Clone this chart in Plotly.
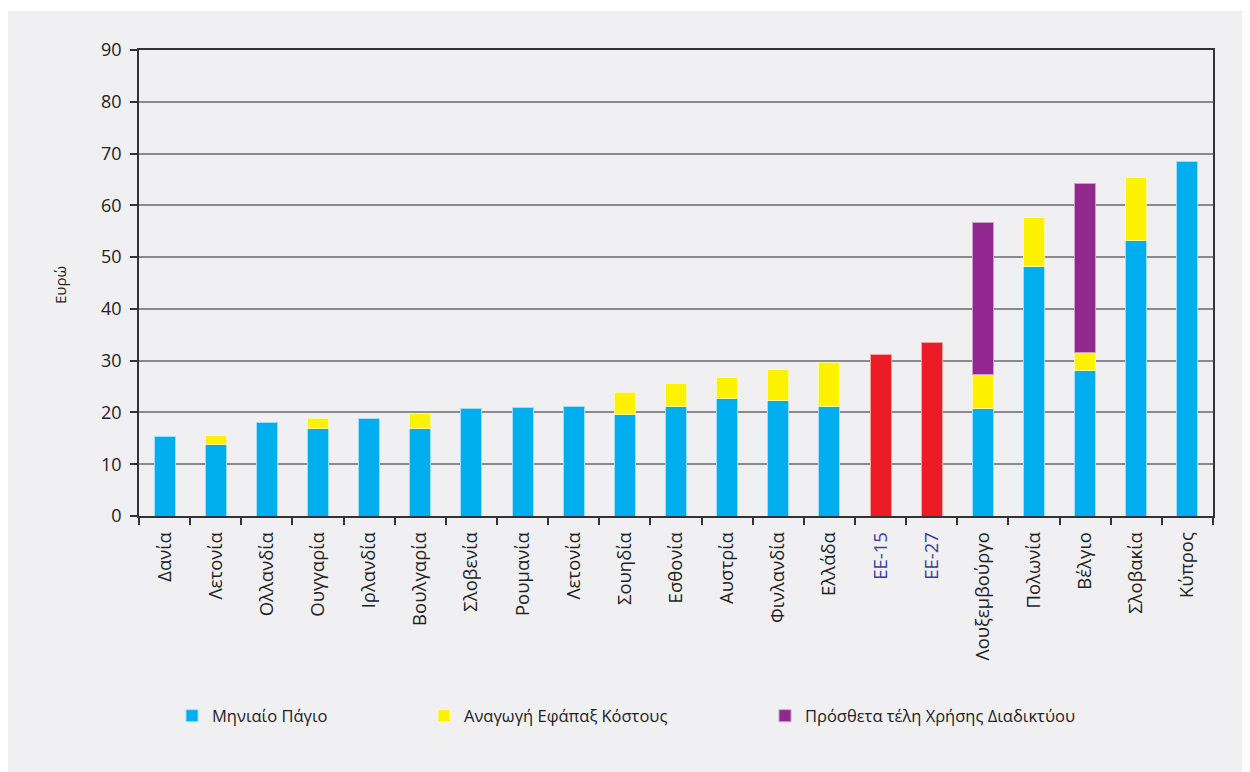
import plotly.graph_objects as go

categories = ["Δανία", "Λετονία", "Ολλανδία", "Ουγγαρία", "Ιρλανδία", "Βουλγαρία",
              "Σλοβενία", "Ρουμανία", "Λετονία", "Σουηδία", "Εσθονία", "Αυστρία",
              "Φινλανδία", "Ελλάδα", "ΕΕ-15", "ΕΕ-27", "Λουξεμβούργο", "Πολωνία",
              "Βέλγιο", "Σλοβακία", "Κύπρος"]
is_eu_average = [False] * 14 + [True, True] + [False] * 5

monthly_fee = [15.4, 13.9, 18.0, 16.9, 18.9, 16.9, 20.7, 21.0, 21.2, 19.6, 21.1, 22.6,
               22.3, 21.1, 31.2, 33.6, 20.7, 48.1, 28.1, 53.2, 68.4]
one_off_cost = [None, 1.7, None, 2.0, None, 2.9, None, None, None, 4.3, 4.4, 4.1,
                5.9, 8.6, None, None, 6.7, 9.5, 3.5, 12.1, None]
internet_fees = [None] * 16 + [29.3, None, 32.6, None, None]

series_names = ["Μηνιαίο Πάγιο", "Αναγωγή Εφάπαξ Κόστους", "Πρόσθετα τέλη Χρήσης Διαδικτύου"]
y_title = "Ευρώ"

BLUE = "#00aeef"
YELLOW = "#fff200"
PURPLE = "#92278f"
RED = "#ed1c24"
BG = "#f0f0f2"
EU_LABEL = "#3a3d9e"

x_idx = list(range(len(categories)))
tick_text = [f'<span style="color:{EU_LABEL}">{c}</span>' if eu else c
             for c, eu in zip(categories, is_eu_average)]

blue_colors = [RED if eu else BLUE for eu in is_eu_average]
blue_lines = ["#f7a0a0" if eu else "#9fdcf7" for eu in is_eu_average]

fig = go.Figure()
fig.add_trace(go.Bar(x=x_idx, y=monthly_fee, name=series_names[0],
                     marker=dict(color=blue_colors, line=dict(color=blue_lines, width=1)),
                     legend="legend", showlegend=True))
fig.add_trace(go.Bar(x=x_idx, y=one_off_cost, name=series_names[1],
                     marker=dict(color=YELLOW, line=dict(color="#fff9a0", width=1)),
                     legend="legend2", showlegend=True))
fig.add_trace(go.Bar(x=x_idx, y=internet_fees, name=series_names[2],
                     marker=dict(color=PURPLE, line=dict(color="#c9a0c8", width=1)),
                     legend="legend3", showlegend=True))

# page offset (browser body margin) between screenshot pixels and figure pixels
OFF = 8
W, H = 1250, 772
L = 139 - OFF
T = 50 - OFF
R = W - (1213 - OFF)
B = H - (516 - OFF)
pw, ph = W - L - R, H - T - B


def px_x(p):
    return (p - OFF - L) / pw


def px_y(p):
    return (H - B - (p - OFF)) / ph


legend_font = dict(family="Open Sans", size=16.5, color="#222")
leg_common = dict(orientation="h", yanchor="middle", xanchor="left",
                  bgcolor="rgba(0,0,0,0)", font=legend_font, y=px_y(716))

fig.update_layout(
    width=W, height=H,
    margin=dict(l=L, r=R, t=T, b=B),
    barmode="stack",
    bargap=0.59,
    showlegend=True,
    paper_bgcolor="white",
    plot_bgcolor=BG,
    font=dict(family="Open Sans", color="#222"),
    legend=dict(x=px_x(212 - 40), **leg_common),
    legend2=dict(x=px_x(464 - 40), **leg_common),
    legend3=dict(x=px_x(805 - 40), **leg_common),
    xaxis=dict(type="category", tickmode="array", tickvals=x_idx, ticktext=tick_text,
               tickson="boundaries", tickangle=-90, ticks="outside", ticklen=7,
               tickcolor="#333", tickwidth=1.5, showline=True, linecolor="#333",
               linewidth=1.5, mirror=True, showgrid=False, ticklabelstandoff=7,
               tickfont=dict(family="Open Sans", size=18.5, color="#222"),
               range=[-0.5, len(categories) - 0.5]),
    yaxis=dict(range=[0, 90], dtick=10, ticks="outside", ticklen=7, tickcolor="#333",
               tickwidth=1.5, showline=True, linecolor="#333", linewidth=1.5, mirror=True,
               showgrid=True, gridcolor="#8a8a8a", gridwidth=1.5, zeroline=False,
               ticklabelstandoff=5,
               tickfont=dict(family="Open Sans", size=18, color="#222")),
    shapes=[dict(type="rect", xref="paper", yref="paper", layer="below",
                 x0=px_x(8), x1=px_x(W + 20), y0=px_y(H + 20), y1=px_y(11),
                 fillcolor=BG, line=dict(width=0))],
    annotations=[dict(text=y_title, xref="paper", yref="paper", x=px_x(60), y=px_y(285),
                      xanchor="center", yanchor="middle",
                      textangle=-90, showarrow=False,
                      font=dict(family="Open Sans", size=15, color="#222"))],
)

fig.write_html("out.html")
